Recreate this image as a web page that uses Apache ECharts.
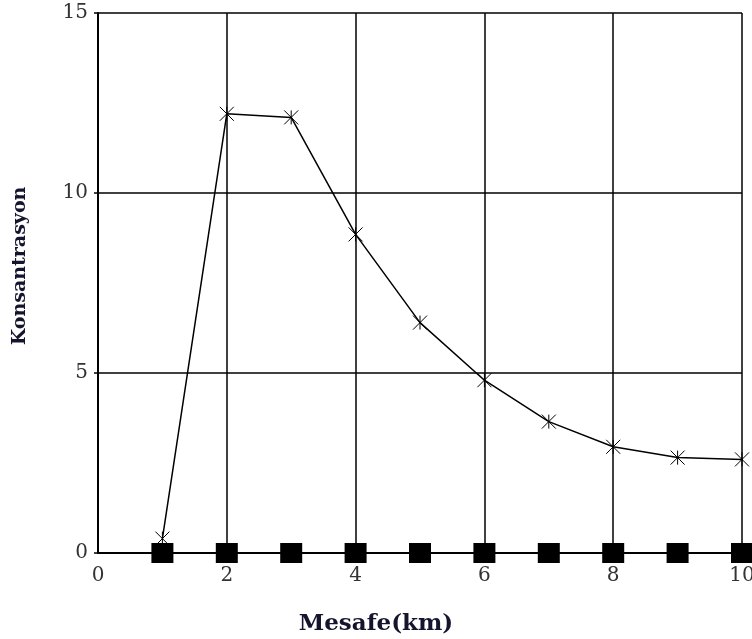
<!DOCTYPE html>
<html>
<head>
<meta charset="utf-8">
<script src="https://cdn.jsdelivr.net/npm/echarts@6/dist/echarts.min.js"></script>
<style>html,body{margin:0;padding:0;background:#fff;}</style>
</head>
<body>
<div id="main" style="width: 752px;height:639px;"></div>
<script>
    // data
    var mesafe = [1, 2, 3, 4, 5, 6, 7, 8, 9, 10];
    var konsantrasyon = [0.4, 12.2, 12.1, 8.85, 6.4, 4.8, 3.65, 2.95, 2.65, 2.6];
    var zemin = [0, 0, 0, 0, 0, 0, 0, 0, 0, 0];

    var serif = '"DejaVu Serif", "Liberation Serif", serif';
    var myChart = echarts.init(document.getElementById('main'));

    var option = {
        backgroundColor: '#FFFFFF',
        animation: false,
        grid: {left: 98, right: 10, top: 13, bottom: 86, outerBoundsMode: 'none'},
        xAxis: {
            type: 'value',
            min: 0, max: 10, interval: 2,
            name: 'Mesafe(km)',
            nameLocation: 'middle',
            nameGap: 60,
            nameTextStyle: {color: '#14142e', fontFamily: serif, fontWeight: 'bold', fontSize: 23, padding: [0, 88, 0, 0]},
            axisLine: {lineStyle: {color: '#000', width: 2}},
            axisTick: {show: false},
            axisLabel: {color: '#333', fontFamily: serif, fontSize: 20, margin: 13},
            splitLine: {show: true, lineStyle: {color: '#000', width: 1.5}}
        },
        yAxis: {
            type: 'value',
            min: 0, max: 15, interval: 5,
            name: 'Konsantrasyon',
            nameLocation: 'middle',
            nameGap: 68,
            nameTextStyle: {color: '#14142e', fontFamily: serif, fontWeight: 'bold', fontSize: 19, padding: [0, 0, 0, 34]},
            axisLine: {lineStyle: {color: '#000', width: 2}},
            axisTick: {show: true, length: 4, lineStyle: {color: '#000', width: 1.5}},
            axisLabel: {color: '#333', fontFamily: serif, fontSize: 20, margin: 10},
            splitLine: {show: true, lineStyle: {color: '#000', width: 1.5}}
        },
        series: [
            {
                type: 'line',
                data: mesafe.map(function (x, i) { return [x, konsantrasyon[i]]; }),
                symbol: 'path://M0,0L10,10M10,0L0,10M5,0L5,10',
                symbolSize: 14,
                lineStyle: {color: '#000', width: 1.5},
                itemStyle: {color: '#000', borderColor: '#000', borderWidth: 1}
            },
            {
                type: 'scatter',
                data: mesafe.map(function (x, i) { return [x, zemin[i]]; }),
                symbol: 'rect',
                symbolSize: [22, 20],
                itemStyle: {color: '#000', opacity: 1},
                z: 5
            }
        ]
    };

    myChart.setOption(option);
</script>
</body>
</html>
